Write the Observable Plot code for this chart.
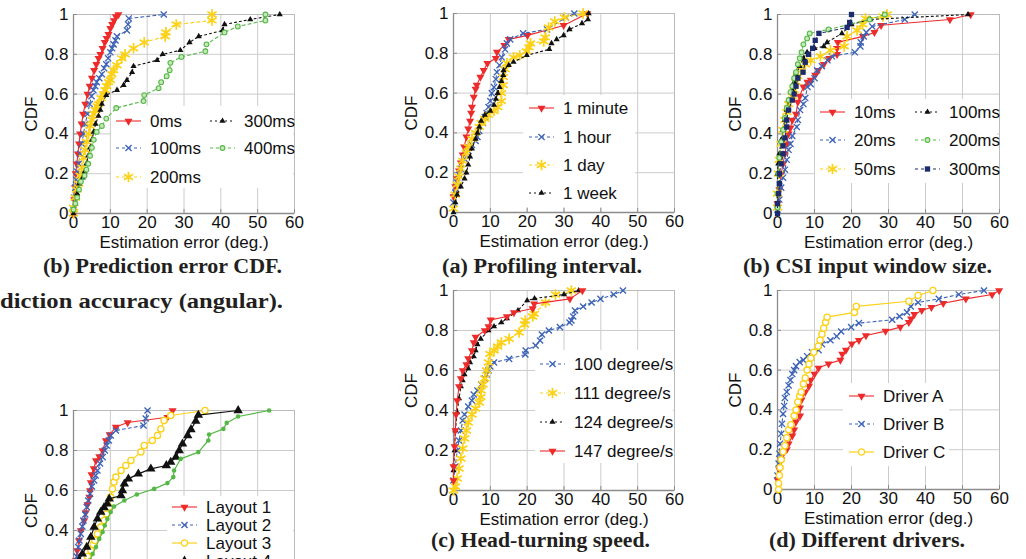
<!DOCTYPE html>
<html><head><meta charset="utf-8">
<script src="https://cdn.jsdelivr.net/npm/d3@7"></script>
<script src="https://cdn.jsdelivr.net/npm/@observablehq/plot@0.6"></script>
<style>
html,body{margin:0;padding:0;background:#fff;}
#page{position:relative;width:1026px;height:559px;overflow:hidden;background:#fff;}
#page svg{position:absolute;}
</style></head><body><div id="page"></div>
<script>
// ---------- axis ticks ----------
const xTicks = [0, 10, 20, 30, 40, 50, 60];
const yTicks = [0, 0.2, 0.4, 0.6, 0.8, 1];

// ---------- (b) Prediction error CDF ----------
const pred0ms = [[0,0],[0.2,0.07],[0.4,0.13],[0.6,0.2],[0.9,0.25],[1.2,0.3],[1.5,0.35],[1.8,0.4],[2.2,0.45],[2.6,0.5],[3.2,0.55],[3.8,0.6],[4.4,0.64],[5,0.68],[5.6,0.72],[6.2,0.75],[6.8,0.78],[7.3,0.8],[7.9,0.83],[8.5,0.86],[9,0.88],[9.5,0.9],[10,0.93],[10.5,0.95],[11,0.97],[11.5,0.99],[12.2,1.0]];
const pred100ms = [[0,0.02],[0.2,0.08],[0.5,0.13],[0.7,0.17],[1,0.21],[1.4,0.25],[1.8,0.3],[2.3,0.35],[2.7,0.4],[3.2,0.45],[3.8,0.5],[4.4,0.55],[4.9,0.59],[5.4,0.62],[5.9,0.64],[6.3,0.66],[7,0.68],[7.7,0.7],[8.3,0.73],[8.9,0.75],[9.4,0.78],[10,0.81],[10.5,0.83],[10.9,0.85],[11.4,0.87],[11.8,0.89],[14.5,0.92],[14.8,0.95],[15,0.98],[24.5,1.0]];
const pred200ms = [[0,0],[0,0.03],[0.5,0.08],[0.9,0.12],[1.4,0.15],[1.8,0.19],[2.3,0.23],[2.7,0.28],[3.2,0.32],[3.6,0.36],[4.1,0.4],[4.5,0.44],[5,0.47],[5.5,0.5],[5.9,0.52],[6.4,0.54],[6.8,0.55],[7.5,0.58],[8.2,0.6],[8.6,0.62],[9,0.64],[9.5,0.66],[10,0.67],[10.4,0.7],[10.9,0.72],[11.8,0.745],[13.1,0.78],[14,0.8],[16.3,0.83],[19.2,0.86],[24.9,0.89],[25.1,0.91],[27.9,0.95],[37.6,0.97],[37.6,1.0]];
const pred300ms = [[0,0],[0.5,0.05],[1,0.1],[1.5,0.15],[2.5,0.18],[3,0.21],[3.5,0.25],[4,0.29],[4.5,0.33],[5,0.37],[5.5,0.41],[6,0.45],[6.8,0.49],[7.3,0.52],[7.7,0.55],[8.9,0.595],[11.8,0.62],[13.6,0.645],[14.5,0.67],[15.9,0.71],[16.3,0.74],[22.7,0.77],[24.2,0.8],[29,0.82],[31.5,0.86],[34,0.89],[40.5,0.92],[41,0.95],[48,0.975],[56,1.0]];
const pred400ms = [[0,0.02],[0.5,0.05],[1,0.08],[1.5,0.12],[2,0.16],[3,0.19],[3.5,0.22],[4,0.25],[4.5,0.29],[5,0.33],[5.5,0.37],[6.3,0.41],[7.7,0.44],[8.9,0.477],[11.6,0.53],[19,0.565],[19.2,0.595],[23.1,0.63],[23.8,0.66],[25.3,0.69],[26.1,0.72],[26.3,0.757],[29.3,0.787],[35.8,0.815],[36.1,0.85],[41,0.91],[44.6,0.94],[52.1,0.97],[52.1,1.0]];

// ---------- (a) Profiling interval ----------
const prof1min = [[0,0.08],[0.5,0.13],[1,0.17],[1.5,0.21],[2,0.25],[2.5,0.29],[2.9,0.33],[3.5,0.38],[4,0.42],[4.5,0.46],[4.8,0.5],[5,0.53],[5.5,0.58],[6,0.62],[6.3,0.64],[7.3,0.68],[8.2,0.715],[9.2,0.75],[11.5,0.775],[11.8,0.806],[13.8,0.84],[15,0.87],[20.1,0.89],[29.9,0.94],[36.3,1.0]];
const prof1hour = [[0,0.05],[0.5,0.1],[1,0.15],[1.5,0.19],[2,0.22],[3,0.27],[4,0.31],[5,0.34],[6,0.36],[6.5,0.38],[7,0.41],[8,0.45],[8.5,0.48],[9,0.5],[9.5,0.53],[10,0.56],[10.4,0.6],[11,0.63],[11.5,0.67],[11.8,0.705],[12.5,0.74],[13.1,0.78],[14,0.82],[14.5,0.85],[15.4,0.87],[18.9,0.9],[25.4,0.92],[30.5,0.98],[32.8,1.0]];
const prof1day = [[0,0.02],[0.5,0.09],[1,0.14],[1.5,0.18],[2,0.22],[2.5,0.26],[3.5,0.3],[4,0.33],[5,0.37],[6,0.4],[7,0.43],[7.5,0.45],[8.5,0.47],[9.5,0.49],[11,0.51],[12,0.53],[13,0.56],[13,0.6],[13.5,0.64],[13.5,0.68],[14,0.72],[14.5,0.75],[16.3,0.78],[18,0.79],[19.8,0.81],[20.5,0.83],[20.9,0.85],[24.5,0.86],[24.9,0.88],[25.8,0.93],[27.5,0.96],[30.1,0.98],[35.2,1.0]];
const prof1week = [[0,0],[0.5,0.05],[1,0.09],[2,0.13],[3,0.17],[3.5,0.2],[4,0.24],[4.5,0.28],[5,0.32],[6,0.37],[6.5,0.4],[7,0.43],[7.5,0.46],[8.5,0.49],[10,0.51],[11,0.54],[11.5,0.57],[12,0.6],[12.5,0.63],[13,0.66],[13.5,0.69],[13.6,0.714],[15,0.74],[16.3,0.756],[19.9,0.79],[26,0.82],[26.6,0.85],[28,0.87],[29.9,0.89],[31.5,0.92],[34.9,0.95],[36.5,0.97],[36.7,1.0]];

// ---------- (b) CSI input window size ----------
const csi10ms = [[0,0.05],[0.5,0.12],[1,0.2],[1.5,0.25],[2,0.3],[2.5,0.35],[3,0.4],[3.5,0.43],[4,0.47],[5,0.5],[5.5,0.56],[6,0.59],[7,0.636],[8.1,0.66],[9,0.67],[10.2,0.695],[11,0.72],[12.5,0.75],[14,0.78],[16.1,0.8],[16.1,0.83],[16.3,0.86],[23.1,0.89],[26.2,0.91],[28,0.946],[46.6,0.975],[52.2,1.0]];
const csi20ms = [[0,0.02],[0.5,0.07],[1,0.13],[1.5,0.18],[2,0.22],[2.5,0.27],[3,0.32],[3.5,0.35],[4,0.39],[5.2,0.435],[5.5,0.47],[6.1,0.52],[7,0.55],[7.5,0.58],[8.1,0.636],[9,0.65],[10,0.68],[10.7,0.72],[12,0.74],[13.5,0.77],[14.7,0.79],[20.9,0.81],[22.4,0.84],[22.5,0.86],[23.3,0.89],[24,0.91],[25.6,0.94],[34.4,0.975],[37.1,1.0]];
const csi50ms = [[0,0.03],[0,0.1],[0.3,0.2],[0.5,0.27],[1,0.35],[1.5,0.42],[2,0.47],[2.5,0.51],[3,0.55],[4,0.59],[4.5,0.62],[5,0.66],[5.5,0.69],[6.5,0.72],[7.5,0.75],[9,0.77],[11.6,0.79],[14.3,0.82],[18,0.84],[18.8,0.89],[21.5,0.92],[23,0.95],[23.8,0.98],[28.5,0.99],[29.6,1.0]];
const csi100ms = [[0,0.05],[0,0.2],[0.2,0.25],[0.5,0.3],[1,0.37],[1.5,0.42],[2,0.47],[2.5,0.52],[3,0.57],[4,0.62],[4.5,0.66],[5,0.7],[6,0.74],[7,0.78],[8,0.81],[10,0.83],[12.5,0.84],[13.4,0.86],[17.4,0.905],[20,0.95],[25.1,0.975],[51.5,1.0]];
const csi200ms = [[0,0.03],[0,0.1],[0.2,0.2],[0.5,0.28],[1,0.36],[1.5,0.42],[2,0.48],[2.5,0.53],[3,0.57],[3.5,0.61],[4,0.64],[4.5,0.68],[5,0.71],[5.5,0.75],[6,0.78],[6.5,0.81],[7,0.85],[8,0.88],[8.7,0.905],[13.8,0.925],[24.9,0.975],[29,1.0]];
const csi300ms = [[0,0],[0,0.05],[0.3,0.1],[0.5,0.15],[0.5,0.2],[1,0.25],[1.5,0.3],[1.5,0.34],[2,0.38],[2.5,0.435],[2.5,0.47],[3,0.52],[4,0.57],[4.5,0.6],[5,0.64],[5.5,0.68],[6.9,0.71],[7.5,0.76],[8.4,0.8],[9.5,0.83],[10.2,0.87],[11.2,0.905],[18.8,0.935],[19.5,0.96],[20,1.0]];

// ---------- (c) Head-turning speed ----------
const head100 = [[0,0.05],[0.5,0.12],[1,0.2],[1.5,0.25],[2,0.3],[2.5,0.35],[3,0.38],[4,0.42],[5,0.45],[5.5,0.48],[6.5,0.5],[7.5,0.53],[8.5,0.56],[9,0.58],[9.5,0.6],[10,0.62],[11,0.64],[15.1,0.658],[19.5,0.68],[19.6,0.7],[22.3,0.725],[23.5,0.75],[24,0.78],[25.9,0.8],[28.9,0.817],[31.5,0.84],[32,0.85],[32.5,0.87],[33,0.9],[35.2,0.92],[37.5,0.94],[39.9,0.958],[43.5,0.98],[46,1.0]];
const head111 = [[0,0],[0.5,0.02],[1,0.06],[1.5,0.11],[2,0.16],[2.5,0.21],[3,0.26],[3.5,0.3],[4,0.34],[5,0.38],[6,0.41],[7,0.44],[7.4,0.467],[7.5,0.5],[8,0.53],[8.5,0.56],[9,0.6],[9.5,0.64],[9.9,0.683],[11,0.7],[12,0.72],[13,0.74],[15.1,0.758],[17.8,0.79],[19.3,0.83],[19.5,0.85],[21.5,0.87],[21.9,0.883],[25,0.94],[27.7,0.98],[32,1.0]];
const head124 = [[0,0.1],[0.3,0.2],[0.5,0.3],[1,0.39],[1.5,0.46],[2,0.52],[2.5,0.55],[3,0.58],[4,0.61],[4.5,0.64],[5.5,0.67],[6,0.7],[6.5,0.73],[7.4,0.758],[9.5,0.8],[11,0.82],[13,0.84],[14.5,0.86],[17.5,0.9],[20,0.95],[22,0.96],[30,0.98],[34,1.0]];
const head147 = [[0,0.05],[0,0.12],[0.3,0.22],[0.5,0.3],[0.7,0.38],[1,0.45],[1.5,0.52],[2,0.56],[2.5,0.6],[3.5,0.63],[4,0.66],[5,0.7],[5.5,0.74],[6,0.767],[8.5,0.8],[9.5,0.82],[10.1,0.853],[14.5,0.87],[16.4,0.89],[21.5,0.91],[21.9,0.933],[31.6,0.958],[35,1.0]];

// ---------- (d) Different drivers ----------
const driverA = [[0,0.05],[0.5,0.1],[1,0.15],[1.5,0.18],[2.5,0.2],[3,0.23],[4,0.27],[4.5,0.3],[5,0.34],[6.1,0.37],[6.1,0.41],[6.5,0.45],[7.5,0.49],[8.5,0.52],[9,0.55],[10,0.58],[11.1,0.61],[13.8,0.632],[17,0.65],[17.5,0.68],[18.5,0.7],[20.1,0.732],[22,0.75],[23.9,0.774],[29.2,0.796],[33.2,0.816],[35.5,0.84],[36.1,0.858],[37,0.88],[39,0.9],[41.6,0.916],[44.8,0.936],[50.9,0.958],[58,0.98],[59.9,1.0]];
const driverB = [[0,0.07],[0.3,0.13],[0.5,0.18],[0.7,0.23],[1,0.28],[1.2,0.33],[1.5,0.38],[1.8,0.42],[2,0.46],[2.5,0.49],[3,0.523],[3.5,0.55],[4,0.58],[4.5,0.6],[5,0.62],[6,0.64],[7,0.65],[8,0.67],[9.3,0.69],[11.1,0.7],[12,0.73],[14.3,0.75],[16,0.77],[17.2,0.794],[19.9,0.816],[22,0.836],[31,0.853],[33,0.87],[35,0.89],[36,0.92],[38,0.94],[43.6,0.958],[49,0.98],[55.8,1.0]];
const driverC = [[0.3,0],[0.3,0.03],[0.5,0.07],[0.7,0.11],[1,0.15],[1.5,0.19],[2,0.22],[2.5,0.26],[3,0.3],[3.6,0.326],[4.5,0.37],[5,0.4],[5.5,0.44],[6,0.47],[6.4,0.49],[7,0.53],[7.5,0.56],[8,0.6],[8.5,0.63],[9,0.66],[9.8,0.69],[11,0.72],[11.5,0.75],[12,0.78],[12.5,0.81],[13,0.84],[13.4,0.866],[20.8,0.89],[21.3,0.92],[35.5,0.946],[38,0.975],[42,1.0]];

// ---------- Layouts ----------
const layout1 = [[0.3,0.2],[0.6,0.25],[1,0.3],[1.5,0.35],[2,0.4],[2.9,0.45],[3.3,0.49],[3.8,0.53],[4.3,0.567],[4.5,0.6],[4.7,0.64],[4.9,0.68],[5.5,0.71],[6.1,0.75],[7,0.77],[7.9,0.8],[8.8,0.85],[9.8,0.88],[11.5,0.917],[14.7,0.94],[25.5,0.966],[26.9,1.0]];
const layout2 = [[0.5,0.22],[0.9,0.27],[1.3,0.317],[1.6,0.35],[2,0.383],[2.4,0.42],[2.7,0.45],[3.2,0.48],[3.6,0.517],[4,0.55],[4.5,0.583],[5,0.62],[5.6,0.65],[6,0.675],[6.5,0.7],[7.2,0.735],[7.9,0.767],[8.5,0.8],[9,0.825],[9.6,0.85],[10.1,0.875],[11.5,0.9],[19,0.925],[19.6,0.96],[20.1,1.0]];
const layout3 = [[3,0.24],[3.8,0.27],[4.7,0.3],[5.3,0.33],[5.8,0.35],[6.5,0.383],[7.4,0.417],[8.3,0.45],[9,0.483],[9.7,0.517],[10.1,0.567],[10.6,0.608],[11,0.642],[11.5,0.667],[12.9,0.7],[14.2,0.725],[15.6,0.75],[18.3,0.792],[19.2,0.825],[21.4,0.85],[22.8,0.875],[23.7,0.908],[24.6,0.95],[26.4,0.975],[35.7,1.0]];
const layout4 = [[1.5,0.25],[2.4,0.283],[3.6,0.317],[4.7,0.367],[5.6,0.417],[6.5,0.458],[7.4,0.492],[8.3,0.515],[9.2,0.533],[9.7,0.558],[12.9,0.575],[13.3,0.6],[13.8,0.633],[14.9,0.658],[17.6,0.683],[21,0.708],[25.2,0.725],[26.4,0.742],[27.8,0.767],[28.7,0.8],[29.6,0.833],[31,0.875],[31.9,0.905],[33.2,0.947],[33.9,0.977],[44.7,1.0]];
const layout5 = [[4.5,0.25],[5.2,0.283],[6.1,0.317],[7,0.358],[7.9,0.392],[8.5,0.425],[9.2,0.458],[10.1,0.492],[11,0.52],[13.8,0.55],[17.2,0.58],[21.9,0.608],[25.5,0.637],[27.1,0.667],[27.3,0.7],[29.1,0.758],[33.9,0.792],[36.6,0.85],[36.8,0.88],[40.7,0.908],[41.6,0.938],[44.7,0.97],[53.1,1.0]];

// ---------- series styles ----------
const STYLES = {
  redTri:  {color:"#ee2b2b", dash:null,  symbol:"triangle", rotate:180, r:3.0, mode:"fill", lw:1.1},
  blueX:   {color:"#3b62b6", dash:"3,3", symbol:"times",    rotate:0,   r:2.9, mode:"stroke", sw:1.3, lw:1.1},
  yelAst:  {color:"#fcd116", dash:"3,3", symbol:"asterisk", rotate:0,   r:5.0, mode:"stroke", sw:1.7, lw:1.1},
  blkTri:  {color:"#111111", dash:"2,3", symbol:"triangle", rotate:0,   r:2.3, mode:"fill", lw:1.1},
  grnO:    {color:"#55b847", dash:"3,3", symbol:"circle",   rotate:0,   r:2.4, mode:"hollow", inner:"#c6e7ba", sw:1.1, lw:1.1},
  navySq:  {color:"#1c2a6e", dash:"3,3", symbol:"square",   rotate:0,   r:3.0, mode:"fill", lw:1.1},
  yelO:    {color:"#fcd116", dash:null,  symbol:"circle",   rotate:0,   r:3.1, mode:"hollow", inner:"#ffffff", sw:1.3, lw:1.2},
  blkTriL: {color:"#111111", dash:null,  symbol:"triangle", rotate:0,   r:3.5, mode:"fill", lw:1.2},
  grnDot:  {color:"#55b847", dash:null,  symbol:"circle",   rotate:0,   r:2.3, mode:"fill", lw:1.2}
};
const D3SYM = {triangle: d3.symbolTriangle, times: d3.symbolTimes, asterisk: d3.symbolAsterisk, circle: d3.symbolCircle, square: d3.symbolSquare};

// ---------- panels ----------
const PAGE_H = 559;
const PANELS = [
  {frame:[73,14,294,213], box:[111,106,182,82],
   series:[["0ms",pred0ms,"redTri",116,121],["100ms",pred100ms,"blueX",116,148],["200ms",pred200ms,"yelAst",116,177],["300ms",pred300ms,"blkTri",210,121],["400ms",pred400ms,"grnO",210,148]]},
  {frame:[453,13,674,212], box:[523,95,112,112],
   series:[["1 minute",prof1min,"redTri",529,108],["1 hour",prof1hour,"blueX",529,137],["1 day",prof1day,"yelAst",529,165],["1 week",prof1week,"blkTri",529,193]]},
  {frame:[777,14,999,213], box:[815,99,182,84],
   series:[["10ms",csi10ms,"redTri",820,112],["20ms",csi20ms,"blueX",820,140],["50ms",csi50ms,"yelAst",820,169],["100ms",csi100ms,"blkTri",915,112],["200ms",csi200ms,"grnO",915,140],["300ms",csi300ms,"navySq",915,169]]},
  {frame:[73,410,294,610], box:[167,496,126,100],
   series:[["Layout 1",layout1,"redTri",172,507],["Layout 2",layout2,"blueX",172,525],["Layout 3",layout3,"yelO",172,543],["Layout 4",layout4,"blkTriL",172,561],["Layout 5",layout5,"grnDot",172,579]]},
  {frame:[453,290,674,490], box:[535,350,138,113],
   series:[["100 degree/s",head100,"blueX",540,364],["111 degree/s",head111,"yelAst",540,393],["124 degree/s",head124,"blkTri",540,422],["147 degree/s",head147,"redTri",540,451]]},
  {frame:[777,290,999,489], box:[843,383,106,83],
   series:[["Driver A",driverA,"redTri",849,396],["Driver B",driverB,"blueX",849,424],["Driver C",driverC,"yelO",849,452]]}
];

const CAPTIONS = [
  ["(b) Prediction error CDF.", 43, 273, 239],
  ["diction accuracy (angular).", 0, 308, 283],
  ["(a) Profiling interval.", 442, 273, 200],
  ["(b) CSI input window size.", 743, 273, 249],
  ["(c) Head-turning speed.", 431, 547, 219],
  ["(d) Different drivers.", 769, 547, 196]
];

const page = document.getElementById("page");
const FONT = "'Liberation Sans', Arial, Helvetica, sans-serif";
const FS = 17;

function dotOptions(st) {
  const o = {x: d => d[0], y: d => d[1], symbol: st.symbol, r: st.r, rotate: st.rotate};
  if (st.mode === "fill") { o.fill = st.color; o.stroke = "none"; }
  else if (st.mode === "stroke") { o.fill = "none"; o.stroke = st.color; o.strokeWidth = st.sw; }
  else { o.fill = st.inner; o.stroke = st.color; o.strokeWidth = st.sw; }
  return o;
}

function drawSymbol(g, st, cx, cy) {
  const p = g.append("path")
    .attr("d", d3.symbol(D3SYM[st.symbol], Math.PI * st.r * st.r)())
    .attr("transform", `translate(${cx},${cy}) rotate(${st.rotate})`);
  if (st.mode === "fill") p.attr("fill", st.color).attr("stroke", "none");
  else if (st.mode === "stroke") p.attr("fill", "none").attr("stroke", st.color).attr("stroke-width", st.sw);
  else p.attr("fill", st.inner).attr("stroke", st.color).attr("stroke-width", st.sw);
}

function makePanel(cfg) {
  const [fx0, fy0, fx1, fy1] = cfg.frame;
  const mL = 73, mT = 14, mR = 12, mB = 44;
  const ox = fx0 - mL, oy = fy0 - mT;
  const h = fy1 - fy0;
  // only label what falls inside the page
  const xAxisVisible = fy1 + 20 < PAGE_H;
  const yLabelTicks = yTicks.filter(t => fy1 - t * h + 8 < PAGE_H);
  const legendBox = () => {
    const g = d3.create("svg:g");
    const [bx, by, bw, bh] = cfg.box;
    g.append("rect").attr("x", bx - ox).attr("y", by - oy).attr("width", bw).attr("height", bh).attr("fill", "#fff");
    return g.node();
  };
  const legendItems = () => {
    const g = d3.create("svg:g").attr("text-anchor", "start");
    for (const [name, , key, lx, ly] of cfg.series) {
      if (ly - 8 > PAGE_H) continue;
      const st = STYLES[key];
      const x = lx - ox, y = ly - oy;
      g.append("line").attr("x1", x).attr("x2", x + 25).attr("y1", y).attr("y2", y)
        .attr("stroke", st.color).attr("stroke-width", st.lw)
        .attr("stroke-dasharray", st.dash);
      drawSymbol(g, st, x + 12.5, y);
      g.append("text").attr("x", x + 34).attr("y", y).attr("dy", "0.35em")
        .attr("text-anchor", "start")
        .attr("font-family", FONT).attr("font-size", FS).attr("fill", "#111").text(name);
    }
    return g.node();
  };
  const marks = [
    Plot.gridX({ticks: xTicks, stroke: "#cccccc", strokeOpacity: 1}),
    Plot.gridY({ticks: yTicks, stroke: "#cccccc", strokeOpacity: 1}),
    Plot.frame({stroke: "#bbbbbb"}),
    legendBox,
    Plot.ruleX([0], {stroke: "#8c8c8c", strokeWidth: 1.3}),
    Plot.ruleY([0], {stroke: "#8c8c8c", strokeWidth: 1.3}),
    Plot.axisX({ticks: xTicks, tickSize: -4, tickFormat: () => "", label: null, stroke: "#8c8c8c"}),
    Plot.axisY({ticks: yTicks, tickSize: -4, tickFormat: () => "", label: null, stroke: "#8c8c8c"}),
    Plot.axisY({ticks: yLabelTicks, tickSize: 0, tickPadding: 5, fontSize: FS, fill: "#111",
      tickFormat: d => d === 0 ? "0" : d === 1 ? "1" : d.toFixed(1),
      label: "CDF", labelAnchor: "center", labelArrow: "none", labelOffset: 49})
  ];
  if (xAxisVisible) {
    marks.push(Plot.axisX({ticks: xTicks, tickSize: 0, tickPadding: 2, fontSize: FS, fill: "#111",
      label: "Estimation error (deg.)", labelAnchor: "center", labelArrow: "none", labelOffset: 34}));
  }
  for (const [, data, key] of cfg.series) {
    const st = STYLES[key];
    marks.push(Plot.line(data, {x: d => d[0], y: d => d[1], stroke: st.color, strokeWidth: st.lw, strokeDasharray: st.dash}));
    marks.push(Plot.dot(data, dotOptions(st)));
  }
  marks.push(legendItems);
  const svg = Plot.plot({
    width: mL + (fx1 - fx0) + mR,
    height: mT + h + mB,
    marginLeft: mL, marginTop: mT, marginRight: mR, marginBottom: mB,
    x: {domain: [0, 60]},
    y: {domain: [0, 1]},
    style: `background: transparent; overflow: visible; font-family: ${FONT}; font-size: ${FS}px; color: #111;`,
    marks
  });
  svg.style.position = "absolute";
  svg.style.left = ox + "px";
  svg.style.top = oy + "px";
  page.appendChild(svg);
}

PANELS.forEach(makePanel);

// captions
const cap = d3.select(page).append("svg").attr("width", 1026).attr("height", 559)
  .style("left", "0px").style("top", "0px");
for (const [t, x, y, len] of CAPTIONS) {
  cap.append("text").attr("x", x).attr("y", y)
    .attr("textLength", len).attr("lengthAdjust", "spacingAndGlyphs")
    .attr("font-family", "'Liberation Serif', 'DejaVu Serif', serif")
    .attr("font-weight", "bold").attr("font-size", 20).attr("fill", "#231f20").text(t);
}
</script></body></html>
